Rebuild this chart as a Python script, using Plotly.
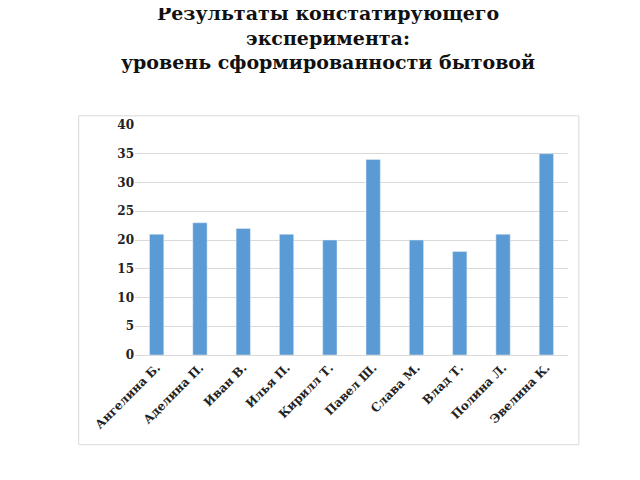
import plotly.graph_objects as go

names = ["Ангелина Б.", "Аделина П.", "Иван В.", "Илья П.", "Кирилл Т.",
         "Павел Ш.", "Слава М.", "Влад Т.", "Полина Л.", "Эвелина К."]
values = [21, 23, 22, 21, 20, 34, 20, 18, 21, 35]

fig = go.Figure(go.Bar(x=names, y=values, marker_color="#5b9bd5", width=0.33))
fig.update_layout(
    width=640, height=480, paper_bgcolor="white", plot_bgcolor="white",
    margin=dict(l=127, r=80, t=117, b=133, autoexpand=False),
    title=dict(text="<b>Результаты констатирующего<br>эксперимента:<br>уровень сформированности бытовой</b>",
               x=0.5, xanchor="center", y=0.975, yanchor="top", automargin=False,
               font=dict(family="DejaVu Serif", size=19, color="#111")),
    showlegend=False,
    font=dict(family="DejaVu Serif", size=12, color="#222"),
    shapes=[dict(type="rect", xref="paper", yref="paper", x0=-0.13, x1=1.025,
                 y0=-0.39, y1=1.04, line=dict(color="#d9d9d9", width=1),
                 fillcolor="white", layer="below")],
)
fig.update_yaxes(range=[0, 40], dtick=5, gridcolor="#d9d9d9", zeroline=False, automargin=False,
                 tickfont=dict(family="DejaVu Serif", size=12, weight="bold"), ticks="", ticklen=6,
                 tickcolor="white")
fig.update_xaxes(tickangle=-45, showline=True, linecolor="#d9d9d9", automargin=False,
                 tickfont=dict(family="DejaVu Serif", size=12, weight="bold"))
fig.write_html("out.html")
